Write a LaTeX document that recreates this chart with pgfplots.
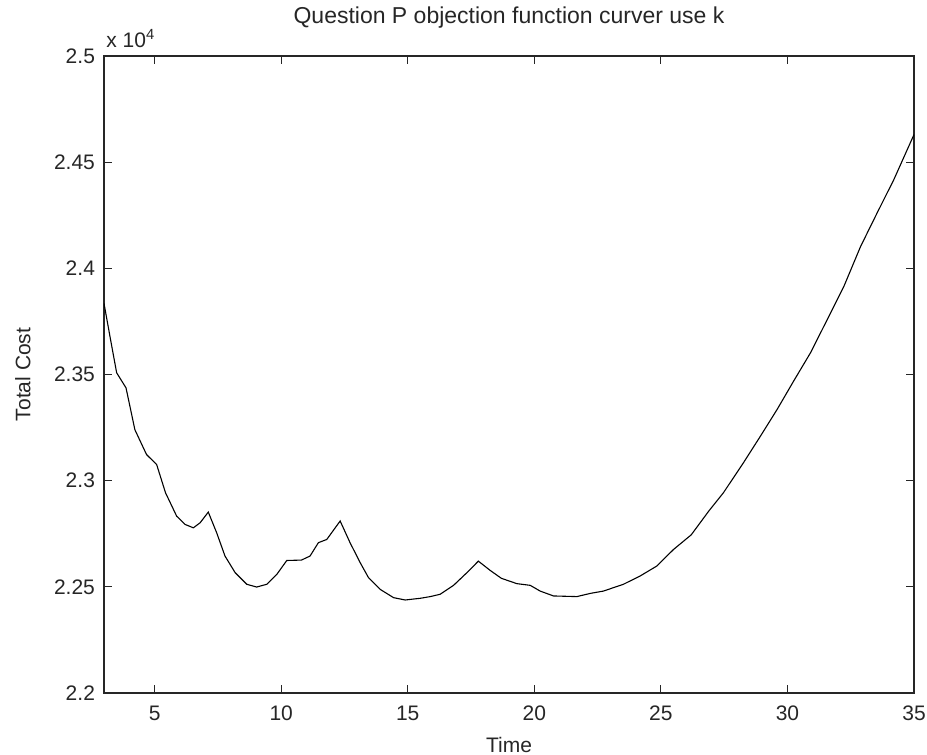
\documentclass[border=0pt]{standalone}
\usepackage{fontspec}
\setmainfont{Liberation Sans}
\usepackage{pgfplots}
\pgfplotsset{compat=1.18}
\begin{document}
\begin{tikzpicture}[x=1pt,y=1pt]
\useasboundingbox (-52,-31) rectangle (411.5,346.5);
\begin{axis}[
  at={(0,0)}, anchor=south west,
  width=405pt, height=318.5pt, scale only axis,
  xmin=3, xmax=35, ymin=22000, ymax=25000,
  xtick={5,10,15,20,25,30,35},
  ytick={22000,22500,23000,23500,24000,24500,25000},
  yticklabels={2.2,2.25,2.3,2.35,2.4,2.45,2.5},
  scaled y ticks=false,
  tick align=inside,
  major tick length=4pt,
  axis line style={line width=0.7pt, black!85},
  every tick/.style={black!85, line width=0.6pt},
  /pgf/number format/assume math mode=true,
  tick label style={font=\fontsize{10.5}{12}\selectfont, text=black!85},
  xticklabel style={yshift=-3pt},
  yticklabel style={xshift=-1pt},
  xlabel={Time}, ylabel={Total Cost},
  label style={font=\fontsize{10.5}{12}\selectfont, text=black!85},
  xlabel style={at={(axis description cs:0.5,-0.082)}, anchor=center},
  ylabel style={at={(axis description cs:-0.1,0.5)}, anchor=center},
  clip mode=individual,
]
\addplot[black, line width=0.55pt] coordinates {
(3.0,23835) (3.25,23670) (3.5,23508) (3.87,23437) (4.22,23240) (4.68,23123)
(5.08,23076) (5.43,22943) (5.87,22833) (6.2,22794) (6.53,22778) (6.8,22802)
(7.12,22852) (7.45,22755) (7.78,22645) (8.18,22567) (8.64,22512) (9.03,22499)
(9.43,22512) (9.83,22559) (10.22,22624) (10.8,22626) (11.14,22645) (11.47,22708)
(11.8,22723) (12.33,22810) (12.72,22708) (13.12,22614) (13.45,22543) (13.91,22488)
(14.44,22449) (14.9,22438) (15.49,22446) (15.89,22454) (16.28,22465) (16.81,22507)
(17.34,22567) (17.79,22621) (18.26,22577) (18.7,22540) (19.31,22515) (19.84,22507)
(20.23,22480) (20.76,22457) (21.68,22454) (22.21,22469) (22.73,22480) (23.52,22512)
(24.18,22551) (24.84,22598) (25.5,22676) (26.2,22745) (26.9,22858) (27.47,22943)
(28.26,23084) (28.93,23209) (29.59,23335) (30.25,23470) (30.91,23602) (31.57,23758)
(32.23,23915) (32.89,24103) (33.54,24260) (34.2,24417) (35.0,24630)
};
\node[anchor=south west, font=\fontsize{10.5}{12}\selectfont, text=black!85, inner sep=0pt] at (rel axis cs:0,1) [yshift=4pt, xshift=1pt] {x 10\textsuperscript{4}};
\node[anchor=center, font=\fontsize{11.5}{13}\selectfont, text=black!85, inner sep=0pt] at (rel axis cs:0.5,1) [yshift=19pt] {Question P objection function curver use k};
\end{axis}
\end{tikzpicture}
\end{document}
